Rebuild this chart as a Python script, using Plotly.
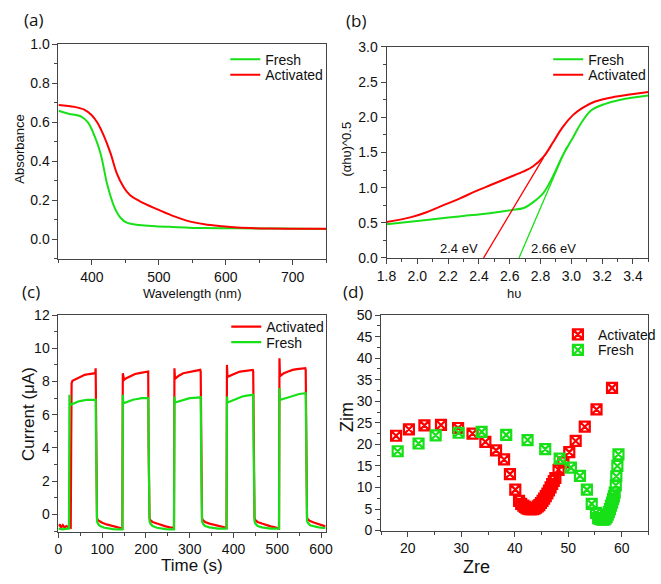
import plotly.graph_objects as go

W, H = 661, 584
RED = "#ff0000"
GREEN = "#18e018"
FONT = "Liberation Sans"

# ---------------- (a) UV-vis absorbance ----------------
a_fresh_wl = [350, 365, 384, 394, 404, 413, 423, 433, 443, 452, 471, 495, 520, 568, 620, 665, 710, 750]
a_fresh_abs = [0.66, 0.645, 0.63, 0.60, 0.53, 0.44, 0.28, 0.17, 0.11, 0.086, 0.074, 0.068, 0.064, 0.058, 0.057, 0.056, 0.055, 0.054]
a_act_wl = [350, 374, 389, 399, 408, 418, 428, 437, 447, 457, 471, 496, 520, 544, 568, 593, 617, 665, 714, 750]
a_act_abs = [0.69, 0.68, 0.665, 0.64, 0.60, 0.53, 0.44, 0.34, 0.27, 0.226, 0.197, 0.157, 0.122, 0.094, 0.078, 0.068, 0.061, 0.056, 0.055, 0.055]

# ---------------- (b) Tauc plot ----------------
b_fresh_e = [1.8, 2.06, 2.27, 2.48, 2.61, 2.69, 2.75, 2.82, 2.88, 2.94, 3.01, 3.07, 3.13, 3.22, 3.32, 3.5]
b_fresh_y = [0.48, 0.54, 0.59, 0.64, 0.68, 0.71, 0.79, 0.93, 1.16, 1.44, 1.71, 1.94, 2.10, 2.19, 2.25, 2.31]
b_act_e = [1.8, 1.96, 2.06, 2.17, 2.27, 2.38, 2.48, 2.59, 2.69, 2.75, 2.82, 2.88, 2.94, 3.01, 3.07, 3.15, 3.28, 3.5]
b_act_y = [0.51, 0.58, 0.65, 0.75, 0.84, 0.95, 1.04, 1.14, 1.23, 1.30, 1.44, 1.64, 1.85, 2.03, 2.13, 2.22, 2.29, 2.36]
b_act_fit_e = [2.43, 2.82]
b_act_fit_y = [0.0, 1.43]
b_fresh_fit_e = [2.66, 2.97]
b_fresh_fit_y = [0.0, 1.58]
b_gap_labels = ["2.4 eV", "2.66 eV"]

# ---------------- (c) photocurrent ----------------
c_act_t = [0, 3, 6, 10, 14, 18, 22, 27, 28, 29, 30, 32, 40, 50, 60, 70, 80, 84, 85, 86, 87, 88, 90, 95, 100, 110, 120, 130, 140, 146,
           147, 148, 150, 155, 165, 175, 185, 195, 204, 205, 206, 207, 208, 210, 215, 225, 235, 245, 255, 264,
           265, 266, 268, 275, 285, 295, 305, 315, 324, 325, 326, 327, 328, 330, 335, 345, 355, 365, 375, 384,
           385, 386, 388, 395, 405, 415, 425, 435, 444, 445, 446, 447, 448, 450, 455, 465, 475, 485, 495, 504,
           505, 506, 508, 515, 525, 535, 545, 555, 564, 565, 566, 567, 568, 570, 575, 585, 595, 605, 610]
c_act_i = [-0.7, -0.6, -0.8, -0.65, -0.8, -0.7, -0.75, -0.8, -0.8, 4.0, 7.9, 8.05, 8.15, 8.3, 8.4, 8.45, 8.5, 8.5, 8.8, 4.0, 0.5, -0.2, -0.35, -0.45, -0.5, -0.6, -0.68, -0.75, -0.8, -0.85,
           8.5, 8.2, 8.1, 8.2, 8.35, 8.45, 8.5, 8.55, 8.6, 8.6, 4.0, 0.5, -0.2, -0.35, -0.45, -0.55, -0.65, -0.72, -0.78, -0.8,
           8.8, 8.3, 8.2, 8.35, 8.5, 8.55, 8.6, 8.65, 8.7, 8.6, 4.0, 0.5, -0.2, -0.35, -0.45, -0.55, -0.62, -0.7, -0.75, -0.8,
           9.0, 8.4, 8.3, 8.4, 8.5, 8.6, 8.65, 8.7, 8.7, 8.6, 4.0, 0.5, -0.2, -0.35, -0.45, -0.55, -0.65, -0.72, -0.78, -0.85,
           9.4, 8.5, 8.35, 8.5, 8.6, 8.7, 8.75, 8.8, 8.8, 8.7, 4.0, 0.5, -0.2, -0.3, -0.4, -0.5, -0.6, -0.68, -0.72]
c_fresh_t = [0, 10, 20, 24, 25, 26, 28, 35, 45, 55, 65, 75, 85, 86, 87, 88, 90, 95, 105, 115, 125, 135, 146,
             147, 148, 150, 160, 170, 180, 190, 205, 206, 207, 208, 210, 215, 225, 235, 245, 255, 264,
             265, 266, 268, 280, 290, 300, 310, 325, 326, 327, 328, 330, 335, 345, 355, 365, 375, 384,
             385, 386, 388, 400, 410, 420, 430, 445, 446, 447, 448, 450, 455, 465, 475, 485, 495, 504,
             505, 506, 508, 520, 530, 540, 550, 565, 566, 567, 568, 570, 575, 585, 595, 610]
c_fresh_i = [-0.85, -0.9, -0.85, -0.85, 7.2, 6.7, 6.6, 6.7, 6.8, 6.85, 6.9, 6.9, 6.9, 4.0, 0.3, -0.4, -0.55, -0.7, -0.8, -0.85, -0.88, -0.9, -0.9,
             7.2, 6.8, 6.7, 6.8, 6.9, 6.95, 7.0, 7.0, 4.0, 0.3, -0.4, -0.55, -0.7, -0.8, -0.85, -0.88, -0.9, -0.9,
             7.1, 6.8, 6.75, 6.85, 6.95, 7.0, 7.02, 7.05, 4.0, 0.3, -0.4, -0.55, -0.7, -0.78, -0.82, -0.85, -0.85, -0.85,
             7.1, 6.8, 6.75, 6.9, 7.0, 7.1, 7.15, 7.2, 4.0, 0.3, -0.4, -0.55, -0.7, -0.78, -0.82, -0.85, -0.85, -0.85,
             7.6, 7.0, 6.9, 7.0, 7.1, 7.2, 7.25, 7.3, 4.0, 0.3, -0.4, -0.5, -0.65, -0.72, -0.78, -0.82]

# ---------------- (d) Nyquist plot ----------------
d_act_zre = [17.8, 20.2, 23.1, 26.2, 29.4, 32.1, 34.5, 36.5, 38.0, 39.1, 40.1, 40.8, 41.2, 41.6, 41.9, 42.2, 42.5, 42.8, 43.1,
             43.4, 43.7, 44.0, 44.3, 44.6, 44.9, 45.2, 45.5, 45.8, 46.1, 46.4, 46.7, 47.0, 47.3, 47.6, 48.2, 49.1, 50.2,
             51.4, 53.1, 55.3, 58.2]
d_act_zim = [22.0, 23.5, 24.4, 24.5, 23.8, 22.5, 20.6, 18.6, 16.5, 13.1, 9.5, 6.9, 6.2, 5.8, 5.5, 5.2, 5.1, 5.0, 4.95,
             5.0, 5.1, 5.3, 5.6, 5.9, 6.4, 6.9, 7.4, 8.0, 8.6, 9.3, 10.0, 10.8, 11.5, 12.2, 14.1, 15.8, 18.2,
             20.8, 24.1, 28.1, 33.1]
d_fresh_zre = [18.1, 22.0, 25.2, 29.5, 33.8, 38.4, 42.4, 45.7, 48.4, 50.5, 52.2, 53.5, 54.4, 55.2, 55.6, 55.9, 56.2, 56.5,
               56.8, 57.0, 57.2, 57.4, 57.6, 57.8, 58.0, 58.2, 58.4, 58.55, 58.7, 58.9, 59.0, 59.2, 59.4]
d_fresh_zim = [18.4, 20.2, 22.1, 22.7, 22.9, 22.2, 21.0, 18.9, 16.7, 14.6, 12.7, 9.5, 6.2, 4.1, 2.9, 2.7, 2.6, 2.55,
               2.6, 2.8, 3.2, 3.7, 4.3, 5.0, 5.8, 6.5, 7.3, 8.0, 8.8, 10.5, 12.6, 15.0, 17.7]


def px(x):
    return x / W


def py(y):
    return 1 - y / H


fig = go.Figure()

# (a)
fig.add_trace(go.Scatter(x=a_fresh_wl, y=a_fresh_abs, mode="lines", name="Fresh", line=dict(color=GREEN, width=2, shape="spline"),
                         xaxis="x", yaxis="y", legend="legend"))
fig.add_trace(go.Scatter(x=a_act_wl, y=a_act_abs, mode="lines", name="Activated", line=dict(color=RED, width=2, shape="spline"),
                         xaxis="x", yaxis="y", legend="legend2"))
# (b)
fig.add_trace(go.Scatter(x=b_fresh_e, y=b_fresh_y, mode="lines", name="Fresh", line=dict(color=GREEN, width=2, shape="spline"),
                         xaxis="x2", yaxis="y2", legend="legend3"))
fig.add_trace(go.Scatter(x=b_act_e, y=b_act_y, mode="lines", name="Activated", line=dict(color=RED, width=2, shape="spline"),
                         xaxis="x2", yaxis="y2", legend="legend4"))
fig.add_trace(go.Scatter(x=b_act_fit_e, y=b_act_fit_y, mode="lines", showlegend=False, line=dict(color=RED, width=1.3),
                         xaxis="x2", yaxis="y2"))
fig.add_trace(go.Scatter(x=b_fresh_fit_e, y=b_fresh_fit_y, mode="lines", showlegend=False, line=dict(color=GREEN, width=1.3),
                         xaxis="x2", yaxis="y2"))
# (c)
fig.add_trace(go.Scatter(x=c_act_t, y=c_act_i, mode="lines", name="Activated", line=dict(color=RED, width=2.2),
                         xaxis="x3", yaxis="y3", legend="legend5"))
fig.add_trace(go.Scatter(x=c_fresh_t, y=c_fresh_i, mode="lines", name="Fresh", line=dict(color=GREEN, width=2.2),
                         xaxis="x3", yaxis="y3", legend="legend6"))
# (d)
fig.add_trace(go.Scatter(x=d_act_zre, y=d_act_zim, mode="markers", name="Activated",
                         marker=dict(symbol="square-x-open", size=10, color=RED, line=dict(width=2.2, color=RED)),
                         xaxis="x4", yaxis="y4", legend="legend7"))
fig.add_trace(go.Scatter(x=d_fresh_zre, y=d_fresh_zim, mode="markers", name="Fresh",
                         marker=dict(symbol="square-x-open", size=10, color=GREEN, line=dict(width=2.2, color=GREEN)),
                         xaxis="x4", yaxis="y4", legend="legend8"))

axis_common = dict(showline=True, mirror=True, linecolor="#444", linewidth=1, ticks="outside", ticklen=5,
                   tickcolor="#444", showgrid=False, zeroline=False,
                   tickfont=dict(family=FONT, size=14, color="#111"))


def ax(**kw):
    d = dict(axis_common)
    d.update(kw)
    return d


def leg(x, y):
    return dict(x=px(x), y=py(y), xanchor="left", yanchor="middle", bgcolor="rgba(0,0,0,0)",
                font=dict(family=FONT, size=14, color="#111"), itemwidth=30, borderwidth=0)


fig.update_layout(
    width=W, height=H,
    margin=dict(l=0, r=0, t=0, b=0),
    paper_bgcolor="white", plot_bgcolor="white",
    font=dict(family=FONT, size=14, color="#111"),
    xaxis=ax(domain=[px(50), px(326)], range=[350, 750], tick0=400, dtick=100,
             minor=dict(ticks="outside", ticklen=3, dtick=50, tickcolor="#444"), anchor="y"),
    yaxis=ax(domain=[py(258), py(37.5)], range=[-0.1, 1.0], tick0=0, dtick=0.2, tickformat=".1f",
             minor=dict(ticks="outside", ticklen=3, dtick=0.1, tickcolor="#444"), anchor="x"),
    xaxis2=ax(domain=[px(388.3), px(658.3)], range=[1.8, 3.5], tick0=1.8, dtick=0.2, tickformat=".1f",
              minor=dict(ticks="outside", ticklen=3, dtick=0.1, tickcolor="#444"), anchor="y2"),
    yaxis2=ax(domain=[py(257), py(40)], range=[0, 3.0], tick0=0, dtick=0.5, tickformat=".1f",
              minor=dict(ticks="outside", ticklen=3, dtick=0.25, tickcolor="#444"), anchor="x2"),
    xaxis3=ax(domain=[px(50), px(325.7)], range=[0, 611], tick0=0, dtick=100,
              minor=dict(ticks="outside", ticklen=3, dtick=50, tickcolor="#444"), anchor="y3"),
    yaxis3=ax(domain=[py(538.3), py(315.7)], range=[-1.03, 12], tick0=0, dtick=2,
              minor=dict(ticks="outside", ticklen=3, dtick=1, tickcolor="#444"), anchor="x3"),
    xaxis4=ax(domain=[px(382.7), px(658.3)], range=[15, 65], tick0=20, dtick=10,
              minor=dict(ticks="outside", ticklen=3, dtick=5, tickcolor="#444"), anchor="y4"),
    yaxis4=ax(domain=[py(537.3), py(315.7)], range=[0, 50], tick0=0, dtick=5,
              minor=dict(ticks="outside", ticklen=3, dtick=2.5, tickcolor="#444"), anchor="x4"),
    legend=leg(222, 53),
    legend2=leg(222, 69),
    legend3=leg(555, 53),
    legend4=leg(555, 69),
    legend5=leg(223, 328),
    legend6=leg(223, 344),
    legend7=leg(565, 336),
    legend8=leg(565, 352),
)

annots = [
    # panel labels
    dict(text="(a)", x=px(24), y=py(12), font=dict(family="Open Sans", size=17, color="#111")),
    dict(text="(b)", x=px(357), y=py(13), font=dict(family="Open Sans", size=17, color="#111")),
    dict(text="(c)", x=px(22), y=py(291), font=dict(family="Open Sans", size=17, color="#111")),
    dict(text="(d)", x=px(354), y=py(291), font=dict(family="Open Sans", size=17, color="#111")),
    # axis titles
    dict(text="Absorbance", x=px(9), y=py(145), textangle=-90, font=dict(family=FONT, size=13, color="#111")),
    dict(text="Wavelength (nm)", x=px(188), y=py(294), font=dict(family=FONT, size=13, color="#111")),
    dict(text="(αhυ)^0.5", x=px(347), y=py(145), textangle=-90, font=dict(family=FONT, size=13, color="#111")),
    dict(text="hυ", x=px(520), y=py(294), font=dict(family=FONT, size=13, color="#111")),
    dict(text="Current (μA)", x=px(19), y=py(417), textangle=-90, font=dict(family=FONT, size=17, color="#111")),
    dict(text="Time (s)", x=px(188), y=py(573), font=dict(family=FONT, size=17, color="#111")),
    dict(text="Zim", x=px(348), y=py(420), textangle=-90, font=dict(family=FONT, size=18, color="#111")),
    dict(text="Zre", x=px(481), y=py(575), font=dict(family=FONT, size=18, color="#111")),
    # band gap labels
    dict(text=b_gap_labels[0], x=px(463), y=py(247), font=dict(family=FONT, size=13, color="#111")),
    dict(text=b_gap_labels[1], x=px(560), y=py(247), font=dict(family=FONT, size=13, color="#111")),
]
for a in annots:
    a.update(xref="paper", yref="paper", showarrow=False, xanchor="center", yanchor="middle")
fig.update_layout(annotations=annots)

fig.write_html("out.html")
